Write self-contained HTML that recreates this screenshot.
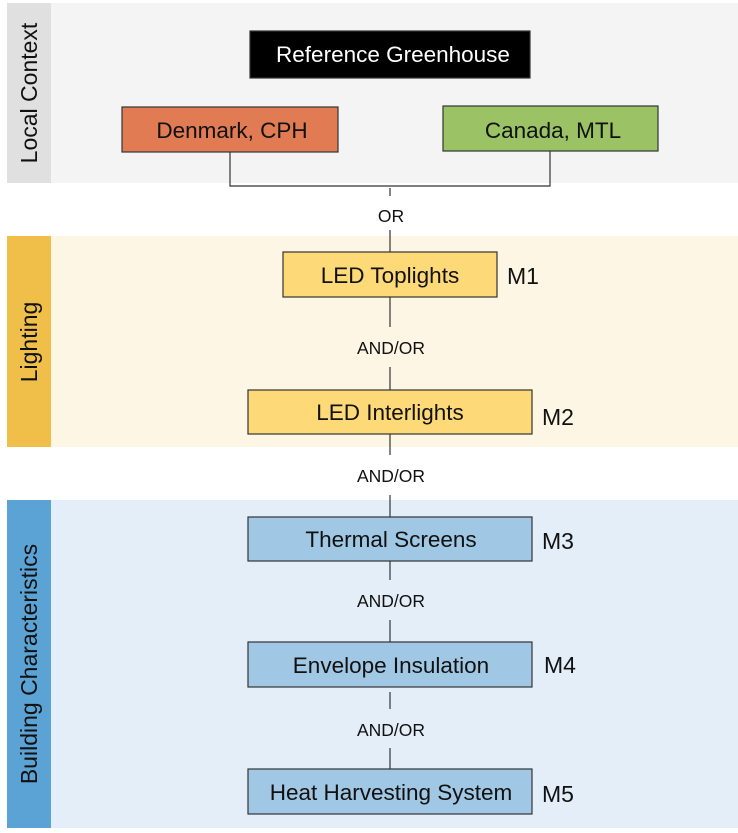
<!DOCTYPE html>
<html><head><meta charset="utf-8"><style>html,body{margin:0;padding:0;background:#fff}</style></head>
<body>
<svg width="738" height="828" viewBox="0 0 738 828" xmlns="http://www.w3.org/2000/svg" font-family="Liberation Sans, Arial, sans-serif">
<rect x="0" y="0" width="738" height="828" fill="#fff"/>
<rect x="51" y="3" width="687" height="180" fill="#f4f4f4"/>
<rect x="7" y="3" width="44" height="180" fill="#e0e0e0"/>
<rect x="51" y="236" width="687" height="211" fill="#fef6e4"/>
<rect x="7" y="236" width="44" height="211" fill="#f0bf4a"/>
<rect x="51" y="500" width="687" height="328" fill="#e3eef8"/>
<rect x="7" y="500" width="44" height="328" fill="#5ba3d4"/>
<g font-size="23" fill="#111">
<text transform="translate(37,93) rotate(-90)" text-anchor="middle">Local Context</text>
<text transform="translate(37,342) rotate(-90)" text-anchor="middle">Lighting</text>
<text transform="translate(37,664) rotate(-90)" text-anchor="middle">Building Characteristics</text>
</g>
<g stroke="#333" stroke-width="1.2" fill="none">
<polyline points="230,152 230,186 550,186 550,151"/>
<line x1="390" y1="188" x2="390" y2="196"/>
<line x1="390" y1="230" x2="390" y2="252"/>
<line x1="390" y1="297" x2="390" y2="327"/>
<line x1="390" y1="367" x2="390" y2="390"/>
<line x1="390" y1="434" x2="390" y2="455"/>
<line x1="390" y1="495" x2="390" y2="517"/>
<line x1="390" y1="561" x2="390" y2="580"/>
<line x1="390" y1="620" x2="390" y2="642"/>
<line x1="390" y1="692" x2="390" y2="709"/>
<line x1="390" y1="748" x2="390" y2="769"/>
</g>
<g stroke="#333" stroke-width="1.2">
<rect x="250" y="31" width="280" height="47" fill="#000"/>
<rect x="122" y="107" width="216" height="45" fill="#e07b54"/>
<rect x="443" y="106" width="215" height="45" fill="#9bc264"/>
<rect x="283" y="252" width="214" height="45" fill="#fdd977"/>
<rect x="248" y="390" width="284" height="44" fill="#fdd977"/>
<rect x="248" y="517" width="284" height="44" fill="#a0c7e4"/>
<rect x="248" y="642" width="284" height="45" fill="#a0c7e4"/>
<rect x="248" y="769" width="284" height="45" fill="#a0c7e4"/>
</g>
<g font-size="22.5" text-anchor="middle" fill="#111">
<text x="393" y="62" fill="#fff">Reference Greenhouse</text>
<text x="232" y="138">Denmark, CPH</text>
<text x="553" y="138">Canada, MTL</text>
<text x="390" y="283">LED Toplights</text>
<text x="390" y="420">LED Interlights</text>
<text x="391" y="547">Thermal Screens</text>
<text x="391" y="673">Envelope Insulation</text>
<text x="391" y="800">Heat Harvesting System</text>
</g>
<g font-size="23" fill="#111">
<text x="507" y="284">M1</text>
<text x="542" y="425">M2</text>
<text x="542" y="549">M3</text>
<text x="544" y="673">M4</text>
<text x="542" y="802">M5</text>
</g>
<g font-size="17.5" text-anchor="middle" fill="#111">
<text x="391" y="222">OR</text>
<text x="391" y="354">AND/OR</text>
<text x="391" y="482">AND/OR</text>
<text x="391" y="607">AND/OR</text>
<text x="391" y="736">AND/OR</text>
</g>
</svg>
</body></html>
